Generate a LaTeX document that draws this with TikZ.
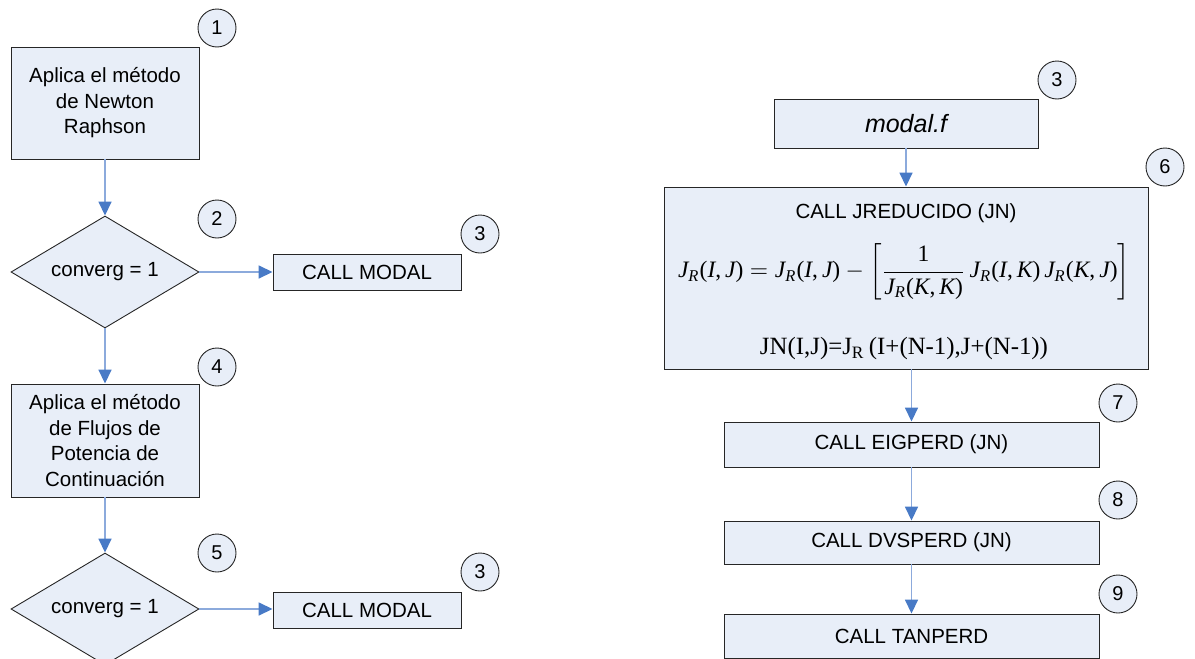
\documentclass[tikz,border=0pt]{standalone}
\usepackage{amsmath}
\usepackage{graphicx}
\usepackage{fontspec}
\setmainfont{Liberation Sans}
\newfontfamily\tms{Liberation Serif}
\usetikzlibrary{arrows.meta,shapes.geometric}

\definecolor{boxfill}{RGB}{232,238,248}
\definecolor{linkline}{RGB}{140,170,220}
\definecolor{linktip}{RGB}{72,122,198}

% Times-style letters for the formulas
\newcommand\ti[1]{\text{\tms\itshape #1}}
\newcommand\tu[1]{\text{\tms #1}}
\newcommand\JR[2]{\ti{J}_{\ti{R}}\tu{(}\ti{#1}\tu{,\,}\ti{#2}\tu{)}}

\tikzset{
  stepbox/.style={draw=black!85, line width=0.9pt, fill=boxfill, inner sep=0pt,
    font=\fontsize{20.5}{25.5}\selectfont, align=center},
  choice/.style={diamond, draw=black!85, line width=0.9pt, fill=boxfill, inner sep=0pt,
    minimum width=188pt, minimum height=112pt, aspect=1.68,
    font=\fontsize{20.5}{25.5}\selectfont},
  tag/.style={circle, draw=black!85, line width=0.9pt, fill=boxfill, inner sep=0pt,
    minimum size=38pt, font=\fontsize{20}{24}\selectfont},
  link/.style={draw=linkline, line width=1.6pt,
    -{Triangle[length=14pt, width=13pt, color=linktip, fill=linktip]}},
}

\begin{document}
\begin{tikzpicture}[x=1pt,y=-1pt]
\useasboundingbox (0,0) rectangle (1195,659);

% ---- left column: power-flow loop ----
\node[stepbox, minimum width=188pt, minimum height=112pt] (nr) at (105,103)
  {Aplica el método\\de Newton\\Raphson};
\node[choice] (c1) at (105,272) {converg = 1};
\node[stepbox, minimum width=188pt, minimum height=36pt] (m1) at (367,272) {CALL MODAL};
\node[stepbox, minimum width=188pt, minimum height=113pt] (fc) at (105,440.5)
  {Aplica el método\\de Flujos de\\Potencia de\\Continuación};
\node[choice] (c2) at (105,609) {converg = 1};
\node[stepbox, minimum width=188pt, minimum height=36pt] (m2) at (367,610) {CALL MODAL};

\node[tag] (t1) at (217,28) {1};
\node[tag] (t2) at (217,219) {2};
\node[tag] (t3a) at (480,234) {3};
\node[tag] (t4) at (217,367) {4};
\node[tag] (t5) at (217,553) {5};
\node[tag] (t3b) at (480,572) {3};

\draw[link] (nr) -- (c1);
\draw[link] (c1) -- (m1);
\draw[link] (c1) -- (fc);
\draw[link] (fc) -- (c2);
\draw[link] (c2.east) -- (c2.east -| m2.west);

% ---- right column: modal.f ----
\node[stepbox, minimum width=264pt, minimum height=49pt, font=\fontsize{25}{30}\selectfont\itshape]
  (mf) at (906,123.5) {modal.f};
\node[stepbox, minimum width=484pt, minimum height=182pt] (jr) at (906,278) {};
\node (jrt) at (906,213) {\fontsize{20.5}{25.5}\selectfont CALL JREDUCIDO (JN)};
\node[inner sep=0pt] (jrf) at (904,272) {\resizebox{452pt}{!}{$
  \JR{I}{J} = \JR{I}{J} - \left[\dfrac{\tu{1}}{\JR{K}{K}}\,\JR{I}{K}\,\JR{K}{J}\right]$}};
\node[inner sep=0pt] (jrn) at (904,349) {\resizebox{288pt}{!}{\tms
  JN(I,J)=J\textsubscript{R}\,(I+(N-1),J+(N-1))}};
\node[stepbox, minimum width=375pt, minimum height=45pt] (eg) at (911.5,444.5) {CALL EIGPERD (JN)};
\node[stepbox, minimum width=375pt, minimum height=43pt] (dv) at (911.5,542.5) {CALL DVSPERD (JN)};
\node[stepbox, minimum width=375pt, minimum height=44pt] (tp) at (911.5,636) {CALL TANPERD};

\node[tag] (t3c) at (1057,80) {3};
\node[tag] (t6) at (1165,167) {6};
\node[tag] (t7) at (1118,403) {7};
\node[tag] (t8) at (1118,500) {8};
\node[tag] (t9) at (1118,594) {9};

\draw[link] (mf) -- (jr);
\draw[link] (eg.north |- jr.south) -- (eg.north);
\draw[link] (eg) -- (dv);
\draw[link] (dv) -- (tp);
\end{tikzpicture}
\end{document}
